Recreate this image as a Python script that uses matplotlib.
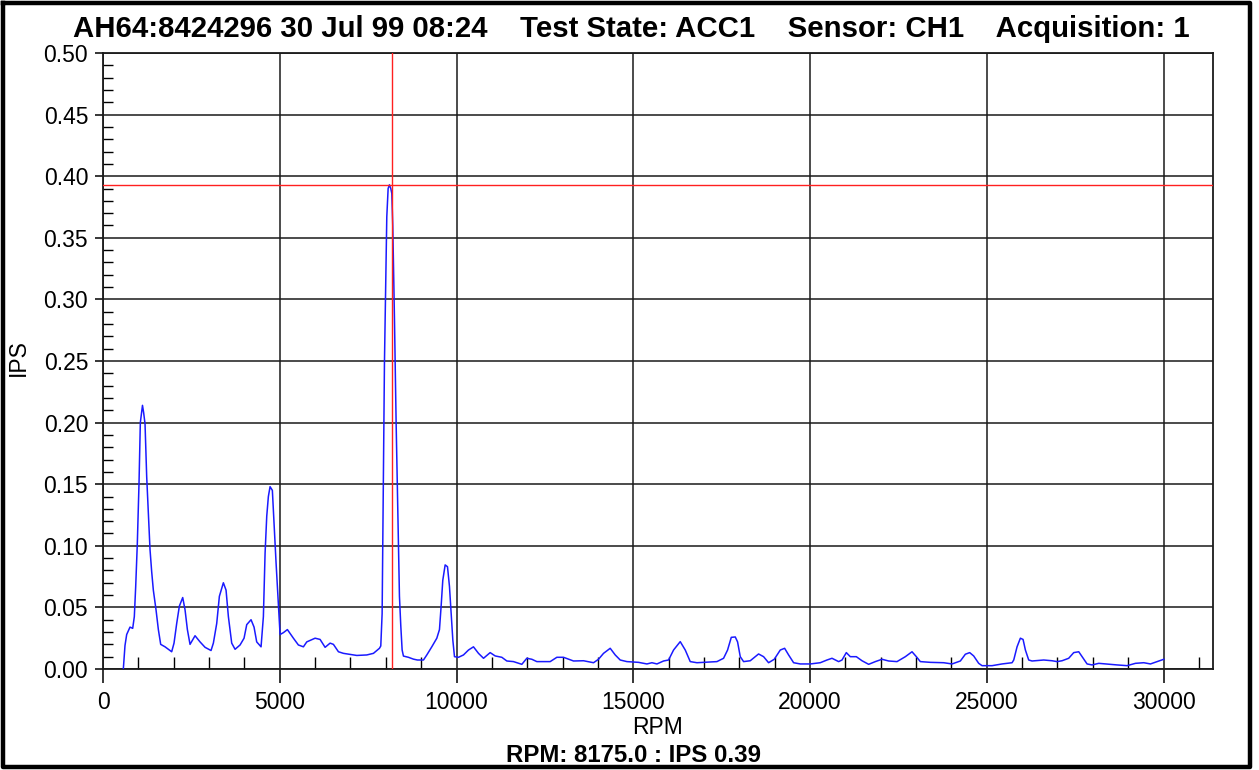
#!/usr/bin/env python3
import numpy as np
import matplotlib
matplotlib.use("Agg")
import matplotlib.pyplot as plt
from matplotlib.lines import Line2D

plt.rcParams['font.family'] = ['Liberation Sans', 'DejaVu Sans']

# spectrum (RPM, IPS)
rpm = [575, 622, 670, 764, 840, 886, 925, 971, 1019, 1056, 1090, 1117, 1150, 1189,
       1236, 1283, 1330, 1377, 1424, 1500, 1566, 1632, 1755, 1943, 2009, 2085, 2160,
       2255, 2321, 2387, 2462, 2604, 2745, 2887, 3056, 3122, 3217, 3292, 3405, 3481,
       3547, 3641, 3736, 3877, 3990, 4066, 4188, 4273, 4348, 4471, 4537, 4585, 4632,
       4678, 4726, 4791, 4839, 4896, 4962, 5009, 5103, 5216, 5386, 5527, 5669, 5764,
       6000, 6141, 6283, 6424, 6518, 6660, 6802, 7179, 7462, 7650, 7820, 7858, 7896,
       7934, 7962, 8000, 8028, 8066, 8103, 8141, 8170, 8197, 8245, 8292, 8339, 8386,
       8424, 8462, 8499, 8640, 8782, 8895, 9065, 9160, 9301, 9443, 9518, 9565, 9612,
       9679, 9745, 9801, 9848, 9896, 9943, 10056, 10197, 10339, 10480, 10622, 10764,
       10952, 11094, 11282, 11424, 11612, 11848, 11989, 12131, 12273, 12650, 12839,
       13027, 13310, 13593, 13876, 14017, 14159, 14348, 14490, 14631, 14820, 15149,
       15386, 15528, 15670, 15857, 15999, 16140, 16329, 16471, 16612, 16801, 17367,
       17555, 17668, 17773, 17886, 17951, 18027, 18121, 18310, 18545, 18687, 18828,
       18989, 19159, 19282, 19395, 19536, 19725, 20008, 20291, 20480, 20622, 20810,
       20905, 21027, 21140, 21310, 21471, 21659, 21848, 22037, 22225, 22461, 22697,
       22886, 23008, 23121, 23404, 23781, 24018, 24253, 24395, 24517, 24630, 24772,
       24867, 25150, 25433, 25716, 25763, 25857, 25951, 26027, 26093, 26187, 26281,
       26611, 26847, 26989, 27130, 27318, 27460, 27602, 27696, 27838, 27980, 28168,
       28357, 28687, 28970, 29206, 29442, 29631, 29820, 30008]
ips = [0.0, 0.019, 0.028, 0.034, 0.033, 0.0425, 0.067, 0.102, 0.151, 0.200, 0.208,
       0.214, 0.208, 0.199, 0.156, 0.126, 0.097, 0.079, 0.064, 0.048, 0.032, 0.020,
       0.018, 0.014, 0.021, 0.037, 0.051, 0.058, 0.048, 0.032, 0.020, 0.027, 0.022,
       0.0176, 0.015, 0.021, 0.037, 0.059, 0.070, 0.064, 0.0425, 0.021, 0.016, 0.0195,
       0.025, 0.036, 0.040, 0.034, 0.022, 0.018, 0.0425, 0.094, 0.124, 0.140, 0.148,
       0.145, 0.118, 0.086, 0.053, 0.028, 0.0295, 0.032, 0.025, 0.0195, 0.018, 0.022,
       0.025, 0.024, 0.0176, 0.021, 0.020, 0.014, 0.0127, 0.011, 0.0114, 0.0127,
       0.0168, 0.0187, 0.045, 0.159, 0.249, 0.319, 0.367, 0.390, 0.393, 0.390, 0.386,
       0.360, 0.284, 0.200, 0.129, 0.059, 0.035, 0.0154, 0.0105, 0.0095, 0.008, 0.0073,
       0.0073, 0.0114, 0.018, 0.025, 0.032, 0.051, 0.072, 0.0845, 0.083, 0.067, 0.045,
       0.0235, 0.010, 0.0095, 0.0114, 0.0154, 0.018, 0.0127, 0.0087, 0.0133, 0.0106,
       0.0095, 0.0065, 0.006, 0.0038, 0.0087, 0.0079, 0.006, 0.006, 0.0095, 0.0095,
       0.0065, 0.0067, 0.0051, 0.0079, 0.0127, 0.0168, 0.0114, 0.0073, 0.006, 0.0054,
       0.0041, 0.0051, 0.0041, 0.0065, 0.0073, 0.0154, 0.0222, 0.0154, 0.006, 0.0051,
       0.006, 0.0087, 0.0154, 0.0257, 0.026, 0.022, 0.010, 0.006, 0.0067, 0.0122,
       0.010, 0.0051, 0.0079, 0.0154, 0.0168, 0.0114, 0.0051, 0.0041, 0.0041, 0.0051,
       0.0073, 0.0087, 0.006, 0.0073, 0.0133, 0.010, 0.010, 0.0067, 0.0038, 0.006,
       0.0079, 0.0065, 0.006, 0.010, 0.014, 0.010, 0.006, 0.0054, 0.0051, 0.0041,
       0.0065, 0.012, 0.0133, 0.0106, 0.0046, 0.0027, 0.0027, 0.0041, 0.0051, 0.0073,
       0.018, 0.025, 0.024, 0.0154, 0.0073, 0.0065, 0.0073, 0.0067, 0.006, 0.0067,
       0.0087, 0.0133, 0.014, 0.010, 0.0041, 0.0033, 0.0046, 0.0041, 0.0033, 0.0027,
       0.0046, 0.0051, 0.0041, 0.006, 0.0079]

cursor_rpm = 8175.0
cursor_ips = 0.393

title_parts = ["AH64:8424296 30 Jul 99 08:24", "Test State: ACC1", "Sensor: CH1", "Acquisition: 1"]
x_major = [0, 5000, 10000, 15000, 20000, 25000, 30000]
y_major = [0.0, 0.05, 0.10, 0.15, 0.20, 0.25, 0.30, 0.35, 0.40, 0.45, 0.50]

W, H = 1259, 770
fig = plt.figure(figsize=(W / 100, H / 100), dpi=100)
ax = fig.add_axes([103 / W, 1 - 669 / H, (1213 - 103) / W, (669 - 53) / H])

ax.plot(rpm, ips, color='#1a1aff', lw=1.1, zorder=3)
ax.axvline(cursor_rpm, color='#ff2020', lw=1.0, zorder=4)
ax.axhline(cursor_ips, color='#ff2020', lw=1.0, zorder=4)

ax.set_xlim(0, 31400)
ax.set_ylim(0, 0.5)
ax.set_xticks(x_major)
ax.set_xticks([v for v in range(1000, 31001, 1000) if v % 5000], minor=True)
ax.set_yticks(y_major)
ax.set_yticks([v / 100 for v in range(1, 50) if v % 5], minor=True)
ax.set_yticklabels([f"{v:.2f}" for v in y_major])
ax.grid(True, which='major', color='#1a1a1a', lw=1.1)
ax.set_axisbelow(True)

fs = 16.5
ax.tick_params(axis='x', which='major', direction='out', length=10, width=1.1,
               labelsize=fs, pad=5.5)
ax.tick_params(axis='x', which='minor', direction='in', length=8.5, width=1.0)
ax.tick_params(axis='y', which='major', direction='out', length=6, width=1.1,
               labelsize=fs, pad=4.7)
ax.tick_params(axis='y', which='minor', direction='in', length=7, width=1.0)
for s in ax.spines.values():
    s.set_linewidth(1.3)
    s.set_color('#1a1a1a')

ax.set_xlabel("RPM", fontsize=fs, va='center')
ax.xaxis.set_label_coords(0.5, (669 - 727) / 616)
ax.set_ylabel("IPS", fontsize=fs, va='center')
ax.yaxis.set_label_coords((18 - 103) / 1110, (669 - 358) / 616)

fig.text(631.5 / W, 1 - 29 / H, "    ".join(title_parts), ha='center', va='center',
         fontsize=21.2, fontweight='bold')
fig.text(633 / W, 1 - 755 / H, f"RPM: {cursor_rpm:.1f} : IPS {round(cursor_ips, 2):.2f}",
         ha='center', va='center', fontsize=17.3, fontweight='bold')

# outer frame of the window
fx = [2.5 / W, 1250 / W, 1250 / W, 2.5 / W, 2.5 / W]
fy = [1 - 2.5 / H, 1 - 2.5 / H, 1 - 767 / H, 1 - 767 / H, 1 - 2.5 / H]
fig.add_artist(Line2D(fx, fy, color='black', lw=3.2, transform=fig.transFigure))

fig.savefig("out.png", dpi=100)
